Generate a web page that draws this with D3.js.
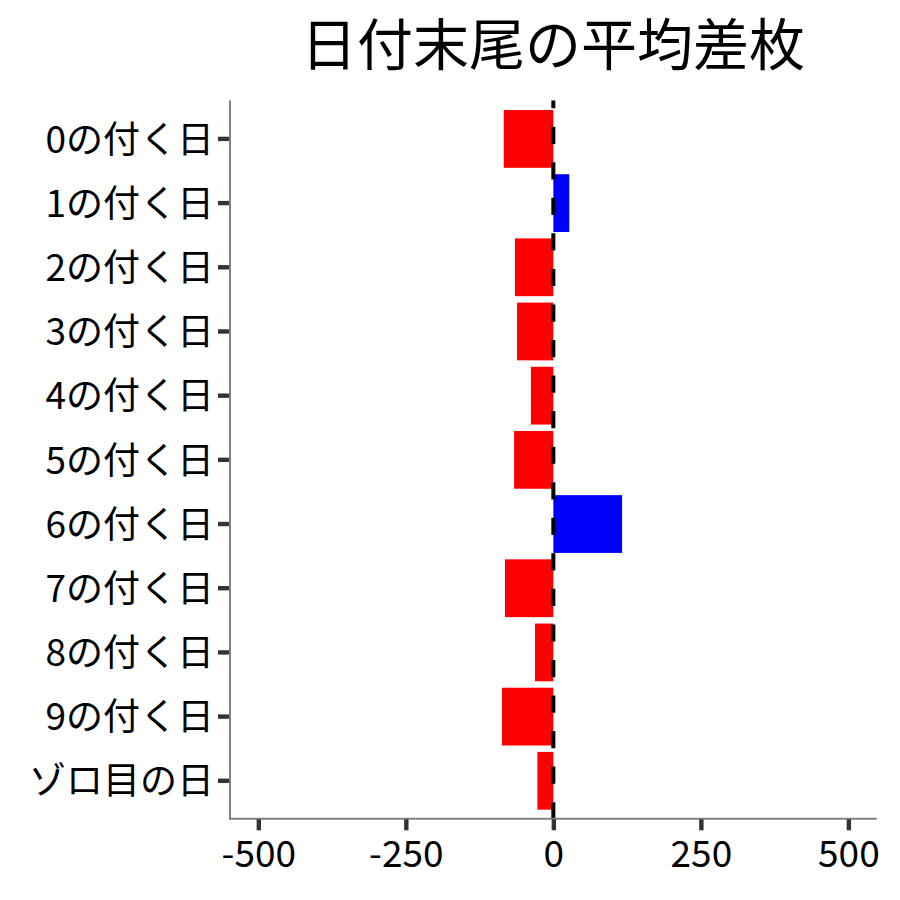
<!DOCTYPE html>
<html>
<head>
<meta charset="utf-8">
<script src="https://cdn.jsdelivr.net/npm/d3@7"></script>
<style>
  html, body { margin: 0; padding: 0; background: #fff; }
  svg { display: block; }
  text { font-family: "Noto Sans CJK JP", "Noto Sans", sans-serif; }
</style>
</head>
<body>
<svg id="chart" width="900" height="900"></svg>
<script>
const title = "日付末尾の平均差枚";
const categories = ["0の付く日","1の付く日","2の付く日","3の付く日","4の付く日","5の付く日","6の付く日","7の付く日","8の付く日","9の付く日","ゾロ目の日"];
const values = [-84, 27, -65, -61.5, -38, -66.5, 116.5, -82, -31, -87, -27];
const xTicks = [-500, -250, 0, 250, 500];
const xTickLabels = ["-500", "-250", "0", "250", "500"];

const panel = { left: 230, right: 876.7, top: 100.4, bottom: 819.3 };
const svg = d3.select("#chart");

const x = d3.scaleLinear().domain([-548, 548]).range([panel.left, panel.right]);
const y = d3.scaleBand().domain(categories).range([panel.top, panel.bottom])
  .paddingInner(0.1).paddingOuter(0.15);

// bars
svg.append("g").selectAll("rect").data(values).join("rect")
  .attr("x", d => x(Math.min(0, d)))
  .attr("width", d => Math.abs(x(d) - x(0)))
  .attr("y", (d, i) => y(categories[i]))
  .attr("height", y.bandwidth())
  .attr("fill", d => d < 0 ? "#FF0000" : "#0000FF");

// dashed zero line
svg.append("line")
  .attr("x1", x(0)).attr("x2", x(0))
  .attr("y1", panel.top).attr("y2", panel.bottom)
  .attr("stroke", "#000").attr("stroke-width", 4)
  .attr("stroke-dasharray", "17.2,18.35")
  .attr("stroke-dashoffset", 9.25);

// axes lines
svg.append("line").attr("x1", panel.left).attr("x2", panel.left)
  .attr("y1", panel.top).attr("y2", panel.bottom)
  .attr("stroke", "#808080").attr("stroke-width", 2);
svg.append("line").attr("x1", panel.left - 1).attr("x2", panel.right)
  .attr("y1", panel.bottom - 0.5).attr("y2", panel.bottom - 0.5)
  .attr("stroke", "#808080").attr("stroke-width", 2);

// y axis
const yAxis = svg.append("g").attr("transform", `translate(${panel.left - 1},0)`)
  .call(d3.axisLeft(y).tickSize(11).tickPadding(4));
yAxis.select(".domain").remove();
yAxis.selectAll(".tick line").attr("stroke", "#333").attr("stroke-width", 4.4);
yAxis.selectAll(".tick text").attr("fill", "#000").attr("font-size", 37)
  .attr("dy", "0.37em");

// x axis
const xAxis = svg.append("g").attr("transform", `translate(0,${panel.bottom})`)
  .call(d3.axisBottom(x).tickValues(xTicks).tickFormat((d, i) => xTickLabels[i]).tickSize(11).tickPadding(11));
xAxis.select(".domain").remove();
xAxis.selectAll(".tick line").attr("stroke", "#333").attr("stroke-width", 4.4);
xAxis.selectAll(".tick text").attr("fill", "#000").attr("font-size", 37)
  .attr("dy", "0.7em");

// title
svg.append("text").attr("x", 553).attr("y", 65)
  .attr("text-anchor", "middle").attr("font-size", 56).attr("fill", "#000")
  .text(title);
</script>
</body>
</html>
